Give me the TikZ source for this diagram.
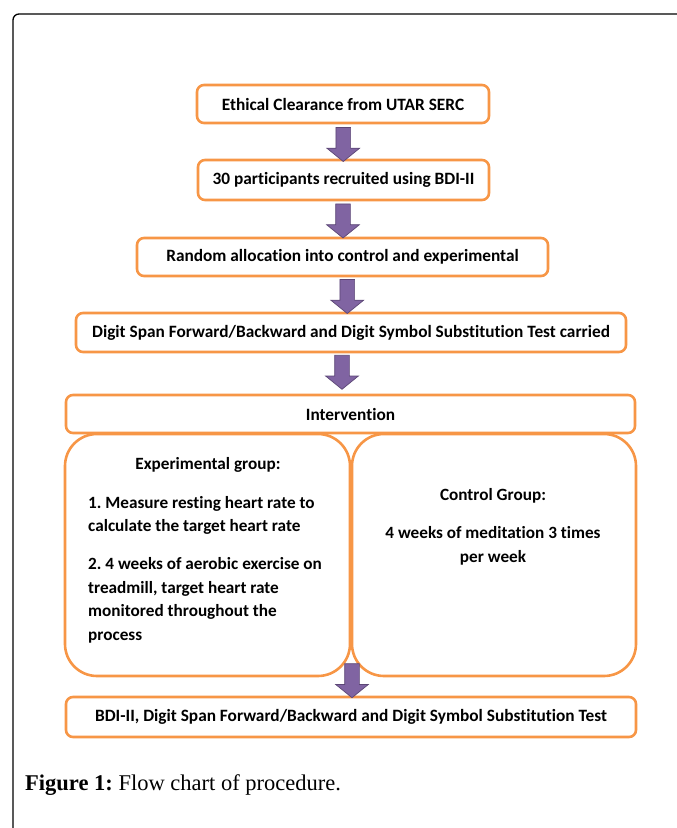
\documentclass[tikz,border=0pt]{standalone}
\usepackage{fontspec}
\setmainfont{Liberation Serif}
\newfontfamily\boxfont[Ligatures=NoCommon]{Carlito}
\usetikzlibrary{shapes.arrows,calc}
\frenchspacing
\definecolor{boxorange}{HTML}{F79646}
\definecolor{arrowfill}{HTML}{8064A2}
\definecolor{arrowline}{HTML}{5C4776}
\tikzset{
  stepbox/.style={draw=boxorange, line width=2.6pt, rounded corners=7pt, fill=white, inner sep=0pt,
    font=\boxfont\bfseries\fontsize{17.3}{20}\selectfont},
  groupbox/.style={draw=boxorange, line width=2.6pt, rounded corners=32pt, fill=white, inner sep=0pt,
    minimum width=285pt, minimum height=242pt},
  grouptext/.style={inner sep=0pt, font=\boxfont\bfseries\fontsize{17.2}{23.5}\selectfont},
  downarrow/.style={single arrow, draw=arrowline, fill=arrowfill, line width=0.7pt, rotate=-90,
    inner xsep=0pt, inner ysep=7pt, single arrow head extend=9pt, single arrow tip angle=102,
    minimum height=34pt},
}
\begin{document}
\begin{tikzpicture}[x=1pt,y=-1pt]
\useasboundingbox (0,0) rectangle (677,828);
\begin{scope}
\clip (0,0) rectangle (677,828);
\draw[line width=1.3pt, rounded corners=6pt] (13,840) -- (13,14) -- (690,14);
\end{scope}
% boxes
\node[stepbox, minimum width=292pt, minimum height=38pt] (ethic) at (343,104) {Ethical Clearance from UTAR SERC};
\node[stepbox, minimum width=291pt, minimum height=40pt] (recruit) at (343.5,180) {30 participants recruited using BDI-II};
\node[stepbox, minimum width=411pt, minimum height=38pt] (alloc) at (342.5,257) {Random allocation into control and experimental};
\node[stepbox, minimum width=550pt, minimum height=39pt] (pretest) at (351,332.5) {Digit Span Forward/Backward and Digit Symbol Substitution Test carried};
\node[stepbox, minimum width=569pt, minimum height=38pt] (interv) at (350.5,414) {Intervention};
\node[groupbox] (exp) at (207.5,555) {};
\node[groupbox, minimum width=284pt] (ctrl) at (494,555) {};
\node[stepbox, minimum width=570pt, minimum height=40pt] (post) at (351,717) {BDI-II, Digit Span Forward/Backward and Digit Symbol Substitution Test};
% group texts
\node[grouptext, anchor=base] (exptitle) at (208,469) {Experimental group:};
\node[grouptext, anchor=base west, align=left] (expbody) at (88,640)
  {1. Measure resting heart rate to\\ calculate the target heart rate\\[14.5pt]
   2. 4 weeks of aerobic exercise on\\ treadmill, target heart rate\\ monitored throughout the\\ process};
\node[grouptext, anchor=base] (ctrltitle) at (493,500) {Control Group:};
\node[grouptext, anchor=base, align=center] (ctrlbody) at (493,562) {4 weeks of meditation 3 times\\ per week};
% arrows
\node[downarrow] (a1) at ($(ethic.south)!0.5!(recruit.north)$) {};
\node[downarrow] (a2) at ($(recruit.south)!0.5!(alloc.north)+(0,-1)$) {};
\node[downarrow] (a3) at ($(alloc.south)!0.5!(pretest.north)+(0.5,-1)$) {};
\node[downarrow] (a4) at ($(pretest.south)+(-9,16)$) {};
\node[downarrow] (a5) at ($(post.north)+(1,-18)$) {};
% caption
\node[anchor=base west, inner sep=0pt, font=\fontsize{22.5}{27}\selectfont] (caption) at (25,790)
  {\textbf{Figure 1:} Flow chart of procedure.};
\end{tikzpicture}
\end{document}
